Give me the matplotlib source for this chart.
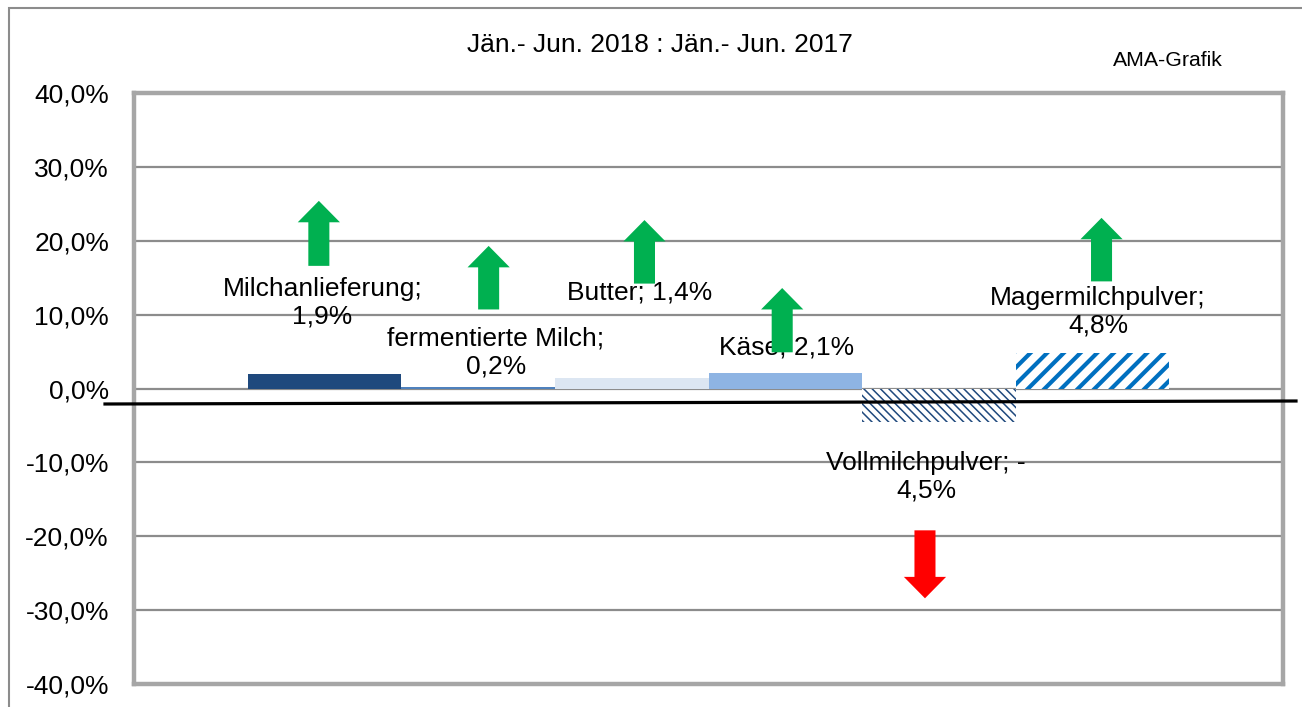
import matplotlib
matplotlib.use("Agg")
import matplotlib.pyplot as plt
from matplotlib.patches import FancyArrow, Rectangle
from matplotlib.lines import Line2D

plt.rcParams['font.family'] = ['Liberation Sans', 'DejaVu Sans']

# Daten
categories = ['Milchanlieferung', 'fermentierte Milch', 'Butter', 'Käse',
              'Vollmilchpulver', 'Magermilchpulver']
values = [1.9, 0.2, 1.4, 2.1, -4.5, 4.8]
bar_labels = ['Milchanlieferung;\n1,9%', 'fermentierte Milch;\n0,2%', 'Butter; 1,4%',
              'Käse; 2,1%', 'Vollmilchpulver; -\n4,5%', 'Magermilchpulver;\n4,8%']
yticks = [-40, -30, -20, -10, 0, 10, 20, 30, 40]
ytick_labels = ['-40,0%', '-30,0%', '-20,0%', '-10,0%', '0,0%',
                '10,0%', '20,0%', '30,0%', '40,0%']

# Stil
bar_colors = ['#1F497D', '#4F81BD', '#DCE6F2', '#8EB4E3', 'white', 'white']
hatch_colors = [None, None, None, None, '#1F497D', '#0070C0']
hatches = [None, None, None, None, '\\\\\\\\', '//']
hatch_lw = [1.0, 1.0, 1.0, 1.0, 1.1, 3.0]
label_pos = [(-0.015, 11.6), (1.114, 4.9), (2.05, 13.0), (3.007, 5.5),
             (3.918, -11.9), (5.037, 10.4)]
# Pfeile: x, Start, Spitze
arrow_x = [-0.038, 1.068, 2.083, 2.98, 5.06, 3.91]
arrow_tail = [16.6, 10.7, 14.2, 4.9, 14.5, -19.2]
arrow_tip = [25.4, 19.3, 22.8, 13.6, 23.1, -28.4]
arrow_colors = ['#00B050'] * 5 + ['#FF0000']

fig = plt.figure(figsize=(13.02, 7.07), dpi=100)
ax = fig.add_axes([134 / 1302, 1 - 684 / 707, 1149 / 1302, 591 / 707])

for i, v in enumerate(values):
    plt.rcParams['hatch.linewidth'] = hatch_lw[i]
    if hatches[i]:
        b = ax.bar(i, v, width=1.0, color=bar_colors[i], edgecolor=hatch_colors[i],
                   hatch=hatches[i], linewidth=0, zorder=3)
    else:
        b = ax.bar(i, v, width=1.0, color=bar_colors[i], linewidth=0, zorder=3)
    for p in b:
        if hasattr(p, 'set_hatch_linewidth'):
            p.set_hatch_linewidth(hatch_lw[i])

for i, (lx, ly) in enumerate(label_pos):
    ax.text(lx, ly, bar_labels[i], ha='center', va='center', fontsize=19,
            color='black', zorder=4)

for x, t0, t1, c in zip(arrow_x, arrow_tail, arrow_tip, arrow_colors):
    ax.add_patch(FancyArrow(x, t0, 0, t1 - t0, width=0.137, head_width=0.275,
                            head_length=2.9, length_includes_head=True,
                            color=c, linewidth=0, zorder=5))

ax.set_xlim(-0.5 - 0.742, 5.5 + 0.742)
ax.set_ylim(-40, 40)
ax.set_yticks(yticks)
ax.set_yticklabels(ytick_labels, fontsize=19)
ax.set_xticks([])
ax.tick_params(axis='y', length=0, pad=18)
ax.yaxis.grid(True, color='#8C8C8C', linewidth=1.6, zorder=0)
ax.set_axisbelow(True)
for s in ax.spines.values():
    s.set_color('#A6A6A6')
    s.set_linewidth(3.2)
    s.set_zorder(6)

# Titel und Hinweise
fig.text(660 / 1302, 1 - 45 / 707, 'Jän.- Jun. 2018 : Jän.- Jun. 2017',
         ha='center', va='center', fontsize=19)
fig.text(1168 / 1302, 1 - 60 / 707, 'AMA-Grafik', ha='center', va='center', fontsize=15.3)

# schwarze Linie und Rahmen
fig.add_artist(Line2D([105 / 1302, 1296 / 1302], [1 - 404 / 707, 1 - 401 / 707],
                      color='black', linewidth=2.3, transform=fig.transFigure, zorder=10))
fig.add_artist(Rectangle((9 / 1302, -0.05), 1.1, 1.05 - 8 / 707, fill=False,
                         edgecolor='#8C8C8C', linewidth=1.5, transform=fig.transFigure))

fig.savefig('out.png', dpi=100)
